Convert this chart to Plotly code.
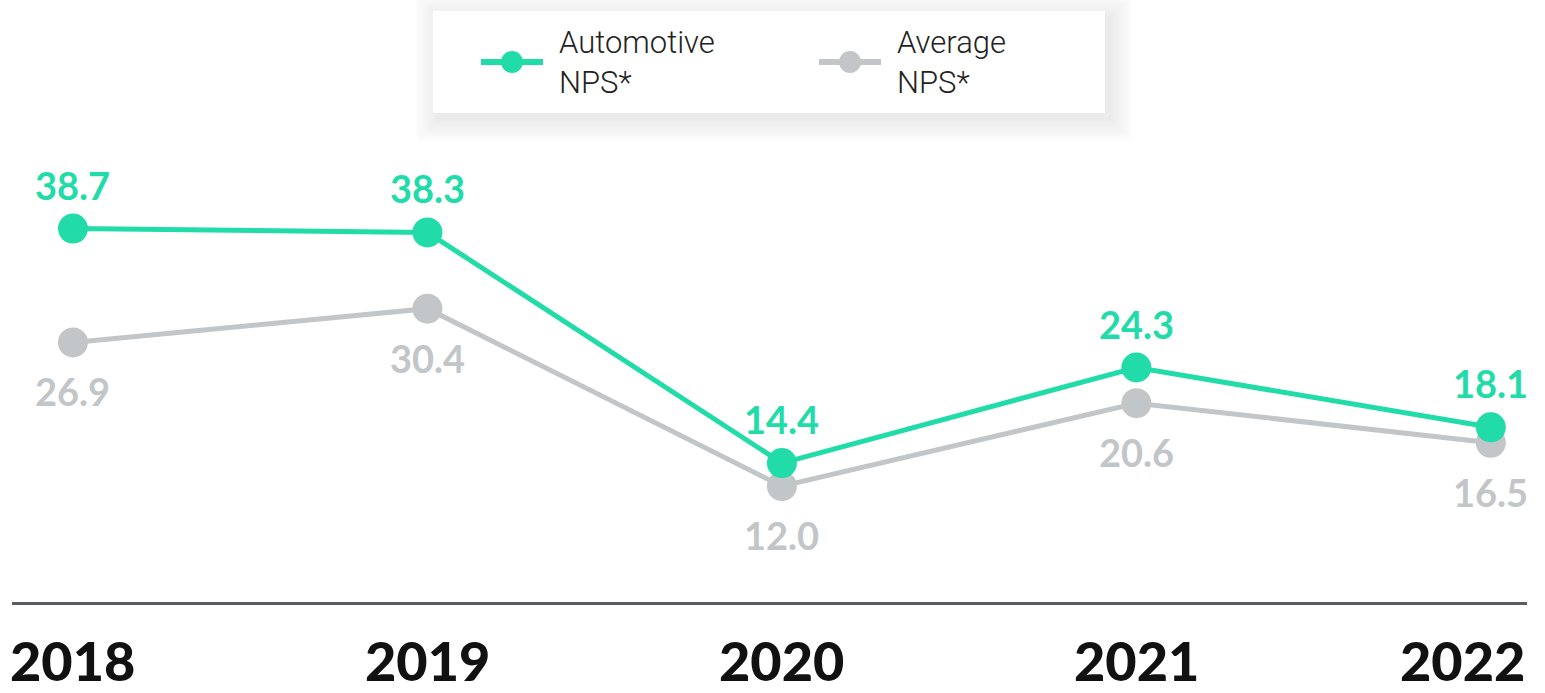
import plotly.graph_objects as go

years = [2018, 2019, 2020, 2021, 2022]
year_labels = ["2018", "2019", "2020", "2021", "2022"]
automotive = [38.7, 38.3, 14.4, 24.3, 18.1]
average = [26.9, 30.4, 12.0, 20.6, 16.5]
series_names = ["Automotive<br>NPS*", "Average<br>NPS*"]

TEAL = "#21DCA8"
GRAY = "#C2C6C8"
AXIS = "#5A5D60"

W, H = 1545, 693
ML, MR, MT, MB = 12, 18, 0, 91
PW, PH = W - ML - MR, H - MT - MB


def px(xp):
    return (xp - ML) / PW


def py(yp):
    return (MT + PH - yp) / PH


fig = go.Figure()
fig.add_trace(go.Scatter(
    x=years, y=average, name=series_names[1], mode="lines+markers",
    line=dict(color=GRAY, width=5), marker=dict(color=GRAY, size=30),
    showlegend=False,
))
fig.add_trace(go.Scatter(
    x=years, y=automotive, name=series_names[0], mode="lines+markers",
    line=dict(color=TEAL, width=5), marker=dict(color=TEAL, size=30),
    showlegend=False,
))

label_font = dict(family="Lato, Open Sans, sans-serif", size=38, weight=700)
for xv, yv in zip(years, automotive):
    fig.add_annotation(x=xv, y=yv, text=f"{yv:.1f}", showarrow=False,
                       yanchor="middle", yshift=44,
                       font=dict(color=TEAL, **label_font))
for xv, yv in zip(years, average):
    fig.add_annotation(x=xv, y=yv, text=f"{yv:.1f}", showarrow=False,
                       yanchor="middle", yshift=-49,
                       font=dict(color=GRAY, **label_font))

year_font = dict(family="Lato, Roboto, sans-serif", size=54, weight=900, color="#111111")
for i, (xv, lab) in enumerate(zip(years, year_labels)):
    if i == len(years) - 1:
        fig.add_annotation(x=1, xref="paper", y=0, yref="paper", text=lab,
                           showarrow=False, xanchor="right", yanchor="middle",
                           yshift=-58, font=year_font)
    else:
        fig.add_annotation(x=xv, y=0, yref="paper", text=lab, showarrow=False,
                           xanchor="center", yanchor="middle", yshift=-58,
                           font=year_font)

# legend box with soft shadow
bx0, bx1, by0, by1 = 433, 1105, 11, 113
shapes = []
for i in range(1, 21):
    g = 1.2 * i
    shapes.append(dict(type="rect", xref="paper", yref="paper",
                       x0=px(bx0 - g + 5), x1=px(bx1 + g + 5),
                       y0=py(by1 + g + 6), y1=py(by0 - g + 6),
                       fillcolor="rgba(0,0,0,0.0042)", line=dict(width=0), layer="above"))
shapes.append(dict(type="rect", xref="paper", yref="paper",
                   x0=px(bx0), x1=px(bx1), y0=py(by1), y1=py(by0),
                   fillcolor="white", line=dict(width=0), layer="above"))

# legend entries (symbol + text)
legend_items = [(series_names[0], TEAL, 481), (series_names[1], GRAY, 819)]
sym_y = 62
for name, col, x0 in legend_items:
    shapes.append(dict(type="line", xref="paper", yref="paper",
                       x0=px(x0), x1=px(x0 + 62), y0=py(sym_y), y1=py(sym_y),
                       line=dict(color=col, width=6), layer="above"))
    shapes.append(dict(type="circle", xref="paper", yref="paper",
                       x0=px(x0 + 20), x1=px(x0 + 42), y0=py(sym_y + 11), y1=py(sym_y - 11),
                       fillcolor=col, line=dict(width=0), layer="above"))
    fig.add_annotation(x=px(x0 + 76), y=py(sym_y), xref="paper", yref="paper",
                       text=name, showarrow=False, xanchor="left", yanchor="middle",
                       align="left",
                       font=dict(family="Roboto, sans-serif", size=31, weight=300,
                                 color="#222222"))

fig.update_layout(
    width=W, height=H,
    margin=dict(l=ML, r=MR, t=MT, b=MB),
    paper_bgcolor="white", plot_bgcolor="white",
    shapes=shapes,
    showlegend=False,
    xaxis=dict(range=[2017.828, 2022.102], showgrid=False, zeroline=False,
               showticklabels=False, ticks="", showline=True, linecolor=AXIS,
               linewidth=3, fixedrange=True),
    yaxis=dict(range=[0, 602 / 9.65], showgrid=False, zeroline=False,
               showticklabels=False, ticks="", showline=False, fixedrange=True),
)

fig.write_html(
    "out.html",
    config={"displayModeBar": False},
    post_script="document.body.style.margin='0';document.body.style.overflow='hidden';",
)
